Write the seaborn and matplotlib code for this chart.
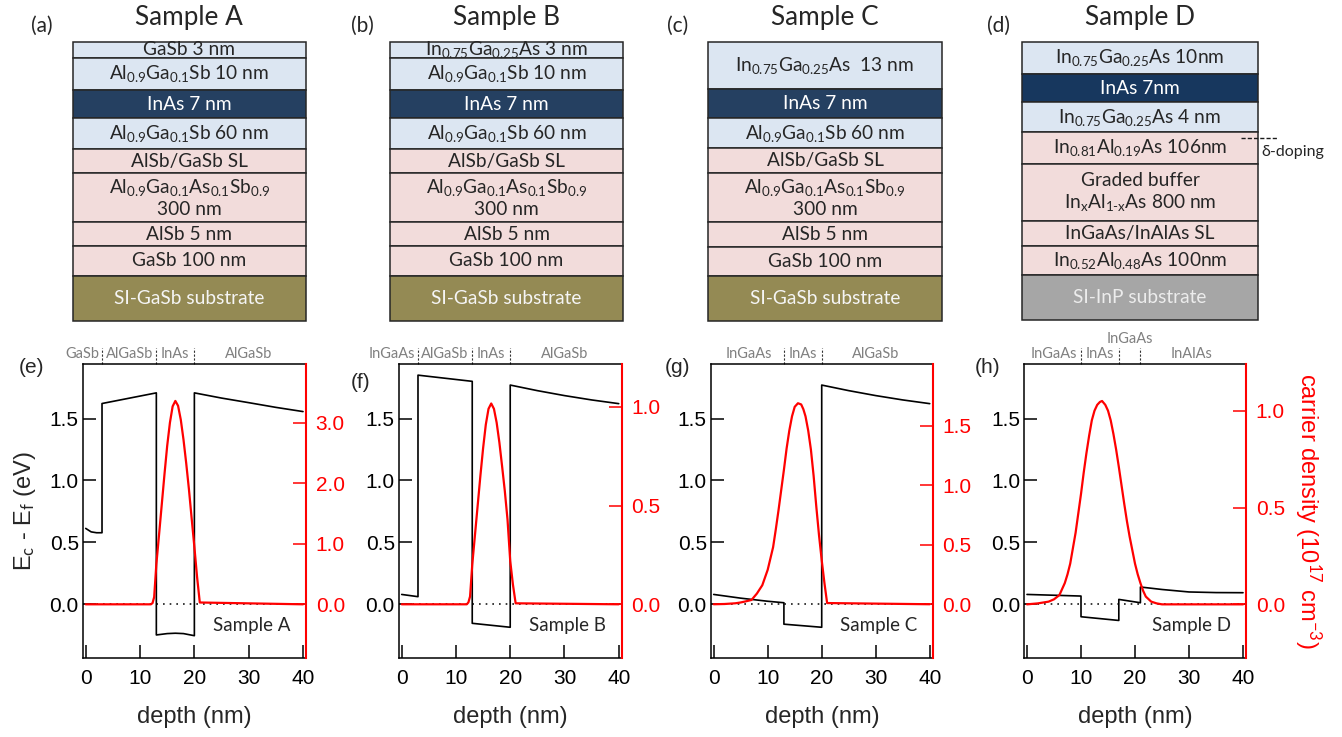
import matplotlib
matplotlib.use("Agg")
import matplotlib.pyplot as plt
from matplotlib.ticker import FormatStrFormatter
import seaborn as sns

# ---------------- layer stacks (top row) ----------------
samples = ["Sample A", "Sample B", "Sample C", "Sample D"]
stack_tags = ["(a)", "(b)", "(c)", "(d)"]

layers_A = ["GaSb 3 nm", r"Al$_{0.9}$Ga$_{0.1}$Sb 10 nm", "InAs 7 nm",
            r"Al$_{0.9}$Ga$_{0.1}$Sb 60 nm", "AlSb/GaSb SL",
            "Al$_{0.9}$Ga$_{0.1}$As$_{0.1}$Sb$_{0.9}$\n300 nm",
            "AlSb 5 nm", "GaSb 100 nm", "SI-GaSb substrate"]
kinds_A = ["blue", "blue", "well", "blue", "pink", "pink", "pink", "pink", "olive"]
rows_A = [16.3, 32, 28, 31, 24, 49, 24, 30, 45]

layers_B = [r"In$_{0.75}$Ga$_{0.25}$As 3 nm", r"Al$_{0.9}$Ga$_{0.1}$Sb 10 nm", "InAs 7 nm",
            r"Al$_{0.9}$Ga$_{0.1}$Sb 60 nm", "AlSb/GaSb SL",
            "Al$_{0.9}$Ga$_{0.1}$As$_{0.1}$Sb$_{0.9}$\n300 nm",
            "AlSb 5 nm", "GaSb 100 nm", "SI-GaSb substrate"]
kinds_B = kinds_A
rows_B = rows_A

layers_C = [r"In$_{0.75}$Ga$_{0.25}$As  13 nm", "InAs 7 nm",
            r"Al$_{0.9}$Ga$_{0.1}$Sb 60 nm", "AlSb/GaSb SL",
            "Al$_{0.9}$Ga$_{0.1}$As$_{0.1}$Sb$_{0.9}$\n300 nm",
            "AlSb 5 nm", "GaSb 100 nm", "SI-GaSb substrate"]
kinds_C = ["blue", "well", "blue", "pink", "pink", "pink", "pink", "olive"]
rows_C = [47.3, 29, 30, 25, 49, 25, 29, 45]

layers_D = [r"In$_{0.75}$Ga$_{0.25}$As 10nm", "InAs 7nm", r"In$_{0.75}$Ga$_{0.25}$As 4 nm",
            r"In$_{0.81}$Al$_{0.19}$As 106nm",
            "Graded buffer\n" + r"In$_{\mathrm{x}}$Al$_{\mathrm{1\text{-}x}}$As 800 nm",
            "InGaAs/InAlAs SL", r"In$_{0.52}$Al$_{0.48}$As 100nm", "SI-InP substrate"]
kinds_D = ["blue", "navy", "blue", "pink", "pink", "pink", "pink", "gray"]
rows_D = [32.3, 28, 30, 32, 57, 25, 29, 45]

fill = {"blue": "#dce6f2", "well": "#254061", "navy": "#17375e", "pink": "#f2dcdb",
        "olive": "#948a54", "gray": "#a6a6a6"}
ink = {"blue": "#262626", "well": "#ffffff", "navy": "#ffffff", "pink": "#262626",
       "olive": "#f5f5f5", "gray": "#ececec"}

# ---------------- band profiles (bottom row) ----------------
plot_tags = ["(e)", "(f)", "(g)", "(h)"]

ec_x_A = [0, 1, 2, 3, 3, 8, 13, 13, 15, 16.5, 18, 20, 20, 25, 30, 35, 40]
ec_A = [0.613, 0.585, 0.578, 0.578, 1.621, 1.664, 1.707, -0.247, -0.236, -0.233, -0.236, -0.253,
        1.707, 1.665, 1.628, 1.59, 1.556]
n_x_A = [0, 12, 12.3, 12.6, 13, 13.5, 14, 14.5, 15, 15.5, 16, 16.5, 17, 17.5, 18, 18.5,
         19, 19.5, 20, 20.5, 21, 40]
n_A = [0, 0, 0.02, 0.12, 0.66, 1.15, 1.65, 2.15, 2.62, 3.0, 3.27, 3.36, 3.28, 3.05, 2.72,
       2.33, 1.9, 1.42, 0.95, 0.45, 0.03, 0]

ec_x_B = [0, 3, 3, 13, 13, 20, 20, 25, 30, 35, 40]
ec_B = [0.08, 0.062, 1.85, 1.80, -0.153, -0.185, 1.77, 1.725, 1.685, 1.65, 1.62]
n_x_B = [0, 12, 12.3, 12.6, 13, 13.5, 14, 14.5, 15, 15.5, 16, 16.5, 17, 17.5, 18, 18.5,
         19, 19.5, 20, 20.5, 21, 40]
n_B = [0, 0, 0.01, 0.04, 0.2, 0.35, 0.5, 0.65, 0.79, 0.91, 0.99, 1.017, 0.99, 0.92, 0.82,
       0.7, 0.575, 0.43, 0.22, 0.1, 0.005, 0]

ec_x_C = [0, 5, 10, 13, 13, 20, 20, 25, 30, 35, 40]
ec_C = [0.08, 0.05, 0.025, 0.013, -0.16, -0.185, 1.77, 1.725, 1.685, 1.65, 1.62]
n_x_C = [0, 2, 4, 5, 6, 7, 8, 9, 10, 11, 11.5, 12, 12.5, 13, 13.5, 14, 14.5, 15, 15.6,
         16.2, 16.6, 17, 17.5, 18, 18.5, 19, 19.5, 20, 20.5, 21, 40]
n_C = [0, 0.002, 0.008, 0.015, 0.025, 0.036, 0.09, 0.16, 0.29, 0.48, 0.63, 0.79, 0.96,
       1.13, 1.31, 1.46, 1.58, 1.66, 1.69, 1.68, 1.64, 1.58, 1.46, 1.30, 1.08, 0.82, 0.58,
       0.37, 0.18, 0.01, 0]

ec_x_D = [0, 10, 10, 17, 17, 21, 21, 23, 25, 30, 35, 40]
ec_D = [0.08, 0.067, -0.10, -0.13, 0.04, 0.013, 0.14, 0.13, 0.12, 0.10, 0.095, 0.094]
n_x_D = [0, 2, 4, 5, 6, 7, 7.5, 8, 8.5, 9, 9.5, 10, 10.5, 11, 11.5, 12, 12.5, 13, 13.5,
         13.9, 14.5, 15, 15.5, 16, 16.5, 17, 17.5, 18, 18.5, 19, 19.5, 20, 20.5, 21, 21.5,
         22, 23, 24, 25, 40]
n_D = [0, 0.005, 0.014, 0.026, 0.048, 0.11, 0.155, 0.21, 0.29, 0.37, 0.47, 0.57, 0.68,
       0.78, 0.87, 0.95, 1.0, 1.03, 1.045, 1.05, 1.03, 1.0, 0.95, 0.88, 0.80, 0.71, 0.615,
       0.52, 0.43, 0.35, 0.28, 0.21, 0.155, 0.11, 0.07, 0.04, 0.014, 0.005, 0, 0]

regions_A = ["GaSb", "AlGaSb", "InAs", "AlGaSb"]
edges_A = [0, 3, 13, 20, 40]
regions_B = ["InGaAs", "AlGaSb", "InAs", "AlGaSb"]
edges_B = [0, 3, 13, 20, 40]
regions_C = ["InGaAs", "InAs", "AlGaSb"]
edges_C = [0, 13, 20, 40]
regions_D = ["InGaAs", "InAs", "InGaAs", "InAlAs"]
edges_D = [0, 10, 17, 21, 40]

n_ticks = [[0, 1, 2, 3], [0, 0.5, 1.0], [0, 0.5, 1.0, 1.5], [0, 0.5, 1.0]]
n_lims = [(-0.887, 3.97), (-0.272, 1.217), (-0.452, 2.02), (-0.277, 1.241)]

# ---------------- style ----------------
sns.set_theme(style="ticks")
plt.rcParams["font.family"] = ["Liberation Sans", "DejaVu Sans"]
plt.rcParams["mathtext.fontset"] = "custom"
plt.rcParams["mathtext.rm"] = "Lato"
plt.rcParams["mathtext.it"] = "Lato:italic"
plt.rcParams["mathtext.bf"] = "Lato:bold"
CAL = ["Lato", "DejaVu Sans"]

W, H = 1342, 737
fig = plt.figure(figsize=(W / 100, H / 100), dpi=100)


def px_axes(l, t, r, b):
    return fig.add_axes([l / W, 1 - b / H, (r - l) / W, (b - t) / H])


# ---- top: layer stacks ----
stack_boxes = [(72.7, 306), (390, 623), (708, 942), (1022, 1258)]
stacks = [(layers_A, kinds_A, rows_A), (layers_B, kinds_B, rows_B),
          (layers_C, kinds_C, rows_C), (layers_D, kinds_D, rows_D)]
tag_x = [42, 362, 678, 998]

for i, ((l, r), (labels, kinds, rows)) in enumerate(zip(stack_boxes, stacks)):
    total = sum(rows)
    ax = px_axes(l, 41.7, r, 41.7 + total)
    bottom = 0
    for lab, k, h in zip(labels, kinds, rows):
        ax.bar(0, h, bottom=bottom, width=1, color=fill[k], edgecolor="#262626",
               linewidth=1.1, clip_on=False)
        ax.text(0, bottom + h / 2, lab, ha="center", va="center", fontsize=13.8,
                family=CAL, color=ink[k], linespacing=1.15)
        bottom += h
    ax.set_xlim(-0.5, 0.5)
    ax.set_ylim(total, 0)
    ax.axis("off")
    fig.text((l + r) / 2 / W, 1 - 17 / H, samples[i], ha="center", va="center",
             fontsize=18.8, family=CAL, color="#262626")
    fig.text(tag_x[i] / W, 1 - 26 / H, stack_tags[i], ha="center", va="center",
             fontsize=15, family=CAL, color="#262626")
    if i == 3:
        y_dop = sum(rows[:3]) + 6
        ax.plot([0.43, 0.585], [y_dop, y_dop], color="k", lw=1, ls=(0, (3, 1.5)),
                clip_on=False)
        ax.text(0.515, y_dop + 14, "δ-doping", fontsize=11.5,
                family=["Lato", "DejaVu Serif"], va="center", ha="left", color="#262626")

# ---- bottom: band diagrams ----
plot_boxes = [(83, 306), (399, 621.7), (711, 932.7), (1024.3, 1246)]
profiles = [(ec_x_A, ec_A, n_x_A, n_A), (ec_x_B, ec_B, n_x_B, n_B),
            (ec_x_C, ec_C, n_x_C, n_C), (ec_x_D, ec_D, n_x_D, n_D)]
regions = [(regions_A, edges_A), (regions_B, edges_B), (regions_C, edges_C),
           (regions_D, edges_D)]
ptag_pos = [(32, 368), (361, 382), (678, 368), (988, 368)]

for i, ((l, r), (ex, ey, nx, ny)) in enumerate(zip(plot_boxes, profiles)):
    ax = px_axes(l, 364, r, 658)
    ax.axhline(0, color="k", ls=(0, (1, 3)), lw=1.2, zorder=1)
    sns.lineplot(x=ex, y=ey, ax=ax, color="black", lw=1.2, estimator=None, sort=False)
    ax.set_xlim(-0.5, 40.55)
    ax.set_ylim(-0.433, 1.94)
    ax.set_xticks([0, 10, 20, 30, 40])
    ax.set_yticks([0, 0.5, 1.0, 1.5])
    ax.yaxis.set_major_formatter(FormatStrFormatter("%.1f"))
    ax.tick_params(axis="both", direction="in", length=9.5, width=1.1, labelsize=15,
                   colors="black")
    ax.tick_params(axis="y", pad=3)
    ax.tick_params(axis="x", pad=8)
    for s in ax.spines.values():
        s.set_linewidth(1.1)
        s.set_color("black")
    ax.set_xlabel("depth (nm)", fontsize=17, labelpad=13)
    ax.set_ylabel("")
    ax.text(30.5, -0.17, samples[i], ha="center", va="center", fontsize=13.5,
            family=CAL, color="#262626")

    ax2 = ax.twinx()
    sns.lineplot(x=nx, y=ny, ax=ax2, color="red", lw=1.6, estimator=None, sort=False)
    ax2.set_ylim(*n_lims[i])
    ax2.set_yticks(n_ticks[i])
    ax2.yaxis.set_major_formatter(FormatStrFormatter("%.1f"))
    ax2.tick_params(axis="y", direction="in", length=9.5, width=1.1, labelsize=15,
                    colors="red", pad=7)
    for side in ["left", "top", "bottom"]:
        ax2.spines[side].set_visible(False)
    ax2.spines["right"].set_color("red")
    ax2.spines["right"].set_linewidth(1.5)
    ax2.set_ylabel("")

    names, edges = regions[i]
    tr = ax.get_xaxis_transform()
    for e in edges[1:-1]:
        ax.axvline(e, ymin=1.0, ymax=1.055, color="#333333", lw=0.8, ls=(0, (2, 1.5)),
                   clip_on=False)
    for j, nm in enumerate(names):
        a, b = edges[j], edges[j + 1]
        x, ha, y = (a + b) / 2, "center", 1.034
        if b - a < 5 and j == 0:
            x, ha = b - 0.5, "right"
        elif b - a < 5:
            y = 1.085
        ax.text(x, y, nm, transform=tr, ha=ha, va="center", fontsize=10.5,
                family=CAL, color="#808080")

    fig.text(ptag_pos[i][0] / W, 1 - ptag_pos[i][1] / H, plot_tags[i], ha="center",
             va="center", fontsize=15)

    if i == 0:
        ax.set_ylabel(r"E$_{\mathrm{c}}$ - E$_{\mathrm{f}}$ (eV)", fontsize=17, labelpad=8)
    if i == 3:
        ax2.set_ylabel(r"carrier density (10$^{\mathrm{17}}$ cm$^{\mathrm{-3}}$)",
                       fontsize=17, color="red", rotation=270, labelpad=28)

fig.savefig("out.png", dpi=100)
